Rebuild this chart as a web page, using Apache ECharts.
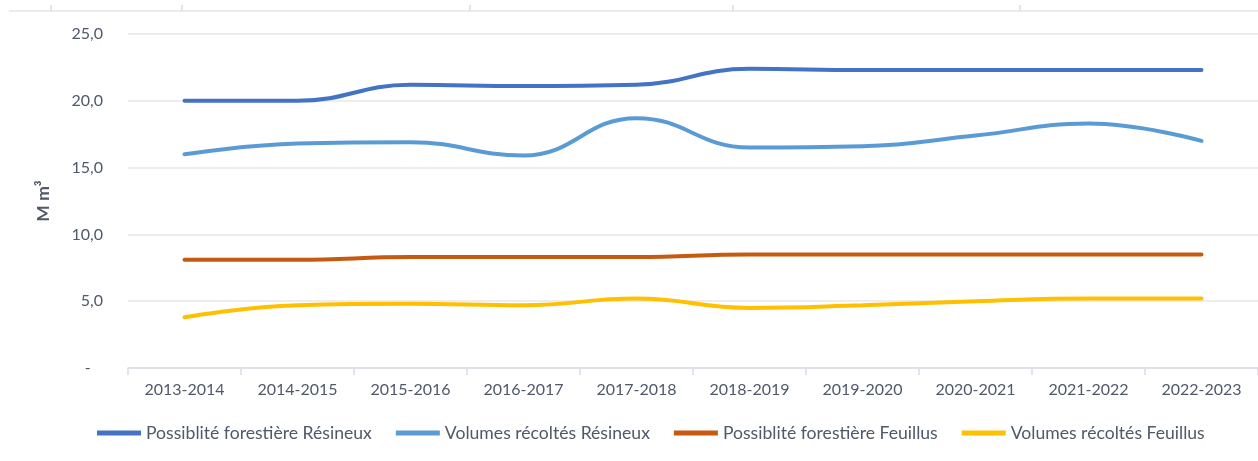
<!DOCTYPE html>
<html>
<head>
<meta charset="utf-8">
<script src="https://cdn.jsdelivr.net/npm/echarts@6/dist/echarts.min.js"></script>
<style>
    html, body { margin: 0; padding: 0; background: #fff; }
    #charts { width: 1258px; height: 461px; }
</style>
</head>
<body>
<div id="charts"></div>
<script>
// campagnes
var categories = ['2013-2014', '2014-2015', '2015-2016', '2016-2017', '2017-2018',
    '2018-2019', '2019-2020', '2020-2021', '2021-2022', '2022-2023'];

// M m³
var possibiliteResineux = [20.0, 20.0, 21.2, 21.1, 21.2, 22.4, 22.3, 22.3, 22.3, 22.3];
var volumesResineux = [16.0, 16.8, 16.9, 15.9, 18.7, 16.5, 16.6, 17.4, 18.3, 17.0];
var possibiliteFeuillus = [8.1, 8.1, 8.3, 8.3, 8.3, 8.5, 8.5, 8.5, 8.5, 8.5];
var volumesFeuillus = [3.8, 4.7, 4.8, 4.7, 5.2, 4.5, 4.7, 5.0, 5.2, 5.2];

var seriesNames = ['Possiblité forestière Résineux', 'Volumes récoltés Résineux',
    'Possiblité forestière Feuillus', 'Volumes récoltés Feuillus'];
var colors = ['#4472C4', '#5B9BD5', '#C55A11', '#FFC000'];

var txt = '#4f5969';
var font = 'Lato';

var chartDom = document.getElementById('charts');
var myChart = echarts.init(chartDom);

function makeLine(i, data) {
    return {
        name: seriesNames[i],
        type: 'line',
        data: data,
        smooth: 0.45,
        symbol: 'none',
        lineStyle: { color: colors[i], width: 4, cap: 'round' },
        itemStyle: { color: colors[i] }
    };
}

var option = {
    backgroundColor: '#fff',
    animation: false,
    color: colors,
    // trait d'un graphique voisin, coupé en haut de l'image
    graphic: [
        { type: 'line', shape: { x1: 9, y1: 11, x2: 1258, y2: 11 }, style: { stroke: '#e4e6eb', lineWidth: 1.5 } },
        { type: 'line', shape: { x1: 51, y1: 5, x2: 51, y2: 11 }, style: { stroke: '#dcdcdc', lineWidth: 1.5 } },
        { type: 'line', shape: { x1: 182, y1: 5, x2: 182, y2: 11 }, style: { stroke: '#dcdcdc', lineWidth: 1.5 } },
        { type: 'line', shape: { x1: 470, y1: 5, x2: 470, y2: 11 }, style: { stroke: '#dcdcdc', lineWidth: 1.5 } },
        { type: 'line', shape: { x1: 733, y1: 5, x2: 733, y2: 11 }, style: { stroke: '#dcdcdc', lineWidth: 1.5 } },
        { type: 'line', shape: { x1: 1020, y1: 5, x2: 1020, y2: 11 }, style: { stroke: '#dcdcdc', lineWidth: 1.5 } }
    ],
    grid: {
        left: 128,
        right: -6,
        top: 34,
        bottom: 93
    },
    legend: {
        data: seriesNames,
        bottom: 14,
        left: 92,
        itemWidth: 44,
        itemHeight: 5,
        itemGap: 24,
        icon: 'rect',
        textStyle: { color: txt, fontSize: 17.6, fontFamily: font }
    },
    xAxis: {
        type: 'category',
        data: categories,
        boundaryGap: true,
        axisLine: { lineStyle: { color: '#dadde3', width: 1.5 } },
        axisTick: { show: true, length: 7, lineStyle: { color: '#dadde3', width: 1.5 } },
        axisLabel: { color: txt, fontSize: 16, fontFamily: font, margin: 14 }
    },
    yAxis: {
        type: 'value',
        min: 0,
        max: 25,
        interval: 5,
        name: 'M m³',
        nameLocation: 'middle',
        nameGap: 76,
        nameTextStyle: { color: txt, fontSize: 17.5, fontWeight: 'bold', fontFamily: font },
        axisLine: { show: false },
        axisTick: { show: false },
        splitLine: { lineStyle: { color: '#e4e7ec', width: 1.5 } },
        axisLabel: {
            color: txt,
            fontSize: 16,
            fontFamily: font,
            margin: 25,
            formatter: function (v) {
                return v === 0 ? '-   ' : v.toFixed(1).replace('.', ',');
            }
        }
    },
    series: [
        makeLine(0, possibiliteResineux),
        makeLine(1, volumesResineux),
        makeLine(2, possibiliteFeuillus),
        makeLine(3, volumesFeuillus)
    ]
};

option && myChart.setOption(option);
</script>
</body>
</html>
